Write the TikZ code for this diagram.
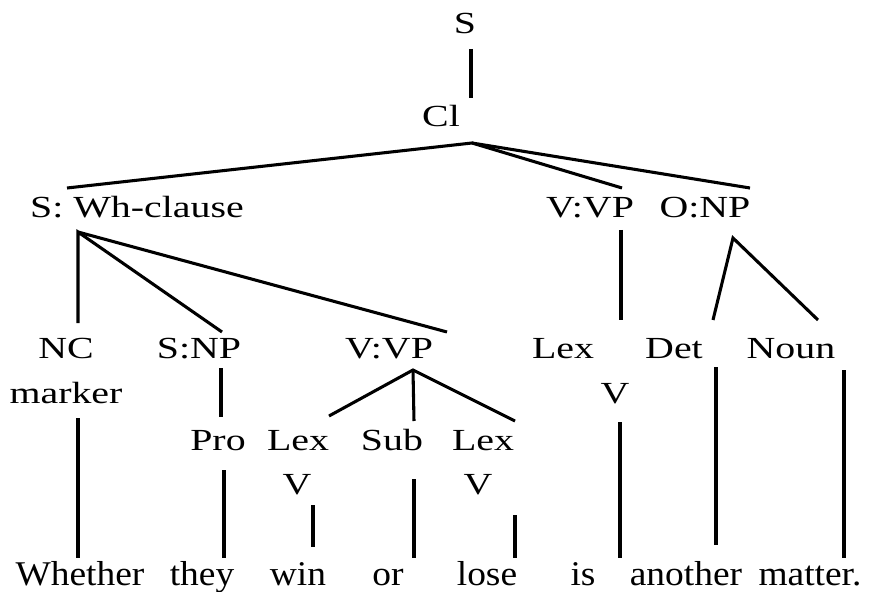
\documentclass[tikz,border=0pt]{standalone}
\usepackage{fontspec}
\setmainfont{Liberation Serif}[FakeStretch=1.3]
\newfontfamily\wordfont{Liberation Serif}[FakeStretch=1.08]

\tikzset{every picture/.style={line width=0.75pt}}
\tikzset{
	lbl/.style={anchor=base, inner sep=0.75pt, font=\fontsize{23}{27}\selectfont},
	word/.style={anchor=base, inner sep=0.75pt, font=\wordfont\fontsize{26}{31}\selectfont},
	branch/.style={line width=2.3pt, line cap=butt}
}
\def \rowA {34}
\def \rowB {127}
\def \rowC {218}
\def \rowD {358}
\def \rowE {403}
\def \rowF {450}
\def \rowG {494}
\def \rowWords {585}
\def \wordTop {558}

\begin{document}
\begin{tikzpicture}[x=0.75pt,y=0.75pt,yscale=-1,xscale=1]
	\useasboundingbox (0,0) rectangle (869,592);

	% Text Node
	\draw (465,\rowA) node (s) [lbl] {S};
	% Text Node
	\draw (441,\rowB) node (cl) [lbl] {Cl};
	% Text Node
	\draw (137,\rowC) node (whc) [lbl] {S: Wh-clause};
	% Text Node
	\draw (590,\rowC) node (vpA) [lbl] {V:VP};
	% Text Node
	\draw (705,\rowC) node (onp) [lbl] {O:NP};

	% Text Node
	\draw (66,\rowD) node (nc) [lbl] {NC};
	\draw (66,\rowE) node (ncm) [lbl] {marker};
	% Text Node
	\draw (199,\rowD) node (snp) [lbl] {S:NP};
	% Text Node
	\draw (389,\rowD) node (vpB) [lbl] {V:VP};
	% Text Node
	\draw (563,\rowD) node (lexA) [lbl] {Lex};
	\draw (615,\rowE) node (lexAv) [lbl] {V};
	% Text Node
	\draw (674,\rowD) node (det) [lbl] {Det};
	% Text Node
	\draw (791,\rowD) node (noun) [lbl] {Noun};

	% Text Node
	\draw (218,\rowF) node (pro) [lbl] {Pro};
	% Text Node
	\draw (298,\rowF) node (lexB) [lbl] {Lex};
	\draw (297,\rowG) node (lexBv) [lbl] {V};
	% Text Node
	\draw (392,\rowF) node (sub) [lbl] {Sub};
	% Text Node
	\draw (483,\rowF) node (lexC) [lbl] {Lex};
	\draw (478,\rowG) node (lexCv) [lbl] {V};

	% Words
	\draw (80,\rowWords) node (whether) [word] {Whether};
	\draw (202,\rowWords) node (they) [word] {they};
	\draw (298,\rowWords) node (win) [word] {win};
	\draw (388,\rowWords) node (or) [word] {or};
	\draw (487,\rowWords) node (lose) [word] {lose};
	\draw (583,\rowWords) node (is) [word] {is};
	\draw (686,\rowWords) node (another) [word] {another};
	\draw (810,\rowWords) node (matter) [word] {matter.};

	% branch ends
	\coordinate (sLow) at (471,49);
	\coordinate (clHigh) at (471,98);
	\coordinate (clTip) at (472,143);
	\coordinate (whcIn) at (67,188);
	\coordinate (vpAIn) at (622,188);
	\coordinate (onpIn) at (750,188);
	\coordinate (whcTip) at (78,232);
	\coordinate (ncIn) at (78,323);
	\coordinate (snpIn) at (222,332);
	\coordinate (vpBIn) at (447,332);
	\coordinate (vpATip) at (621,230);
	\coordinate (lexAIn) at (621,320);
	\coordinate (onpTip) at (733,238);
	\coordinate (detIn) at (713,320);
	\coordinate (nounIn) at (818,320);
	\coordinate (snpTip) at (221,368);
	\coordinate (proIn) at (221,417);
	\coordinate (vpBTip) at (413,370);
	\coordinate (lexBIn) at (329,416);
	\coordinate (subIn) at (414,421);
	\coordinate (lexCIn) at (515,421);

	\coordinate (ncmTip) at (78,418);
	\coordinate (proTip) at (224,470);
	\coordinate (lexBvTip) at (313,505);
	\coordinate (subTip) at (414,479);
	\coordinate (lexCvTip) at (515,515);
	\coordinate (lexAvTip) at (620,422);
	\coordinate (detTip) at (716,367);
	\coordinate (nounTip) at (844,370);
	\coordinate (whetherIn) at (78,\wordTop);
	\coordinate (theyIn) at (224,\wordTop);
	\coordinate (winIn) at (313,547);
	\coordinate (orIn) at (414,\wordTop);
	\coordinate (loseIn) at (515,\wordTop);
	\coordinate (isIn) at (620,\wordTop);
	\coordinate (anotherIn) at (716,545);
	\coordinate (matterIn) at (844,\wordTop);

	% Branches
	\draw [branch] (sLow) -- (clHigh);
	\draw [branch] (whcIn) -- (clTip) -- (vpAIn);
	\draw [branch] (clTip) -- (onpIn);
	\draw [branch] (ncIn) -- (whcTip) -- (snpIn);
	\draw [branch] (whcTip) -- (vpBIn);
	\draw [branch] (vpATip) -- (lexAIn);
	\draw [branch] (detIn) -- (onpTip) -- (nounIn);
	\draw [branch] (snpTip) -- (proIn);
	\draw [branch] (lexBIn) -- (vpBTip) -- (lexCIn);
	\draw [branch] (vpBTip) -- (subIn);

	% Lines down to the words
	\draw [branch] (ncmTip) -- (whetherIn);
	\draw [branch] (proTip) -- (theyIn);
	\draw [branch] (lexBvTip) -- (winIn);
	\draw [branch] (subTip) -- (orIn);
	\draw [branch] (lexCvTip) -- (loseIn);
	\draw [branch] (lexAvTip) -- (isIn);
	\draw [branch] (detTip) -- (anotherIn);
	\draw [branch] (nounTip) -- (matterIn);

\end{tikzpicture}
\end{document}
